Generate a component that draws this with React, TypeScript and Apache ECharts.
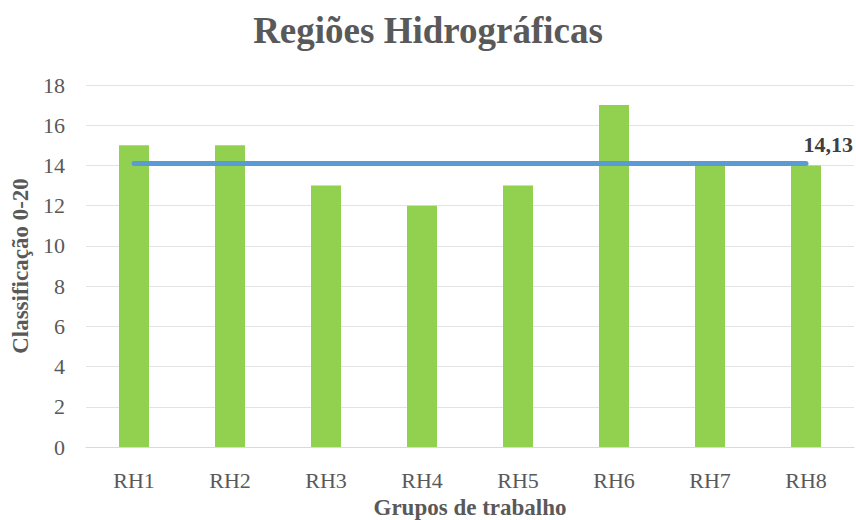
import React, { useEffect, useRef } from "react";
import * as echarts from "echarts";

const categories = ["RH1", "RH2", "RH3", "RH4", "RH5", "RH6", "RH7", "RH8"];
const scores = [15, 15, 13, 12, 13, 17, 14, 14];
const average = 14.13;
const averageLabel = "14,13";
const titleText = "Regiões Hidrográficas";
const yAxisName = "Classificação 0-20";
const xAxisName = "Grupos de trabalho";

const FONT = "'Liberation Serif', 'Times New Roman', serif";

export default function App() {
  const ref = useRef<HTMLDivElement>(null);
  useEffect(() => {
    document.body.style.margin = "0";
    if (!ref.current) return;
    const chart = echarts.init(ref.current, undefined, { renderer: "svg" });
    chart.setOption({
      animation: false,
      backgroundColor: "#ffffff",
      textStyle: { fontFamily: FONT },
      title: {
        text: titleText,
        left: "center",
        top: 7,
        textStyle: { fontFamily: FONT, fontSize: 37, fontWeight: "bold", color: "#595959" },
      },
      grid: { left: 86, right: 2, top: 85, bottom: 73, containLabel: false, outerBoundsMode: "none" },
      xAxis: {
        type: "category",
        data: categories,
        name: xAxisName,
        nameLocation: "middle",
        nameGap: 49,
        nameTextStyle: { fontFamily: FONT, fontSize: 23, fontWeight: "bold", color: "#595959" },
        axisLine: { show: true, lineStyle: { color: "#d9d9d9", width: 1 } },
        axisTick: { show: false },
        axisLabel: { fontFamily: FONT, fontSize: 22, color: "#595959", margin: 22 },
      },
      yAxis: {
        type: "value",
        min: 0,
        max: 18,
        interval: 2,
        name: yAxisName,
        nameLocation: "middle",
        nameGap: 51,
        nameRotate: 90,
        nameTextStyle: { fontFamily: FONT, fontSize: 23, fontWeight: "bold", color: "#595959" },
        axisLine: { show: false },
        axisTick: { show: false },
        axisLabel: { fontFamily: FONT, fontSize: 22, color: "#595959", margin: 21 },
        splitLine: { lineStyle: { color: "#e3e3e3", width: 1 } },
      },
      series: [
        {
          type: "bar",
          data: scores,
          barWidth: 30,
          itemStyle: { color: "#92D050" },
          markLine: {
            symbol: ["none", "none"],
            silent: true,
            lineStyle: { color: "#5B9BD5", width: 5, type: "solid", cap: "round" },
            label: {
              show: true,
              position: "insideEndTop",
              formatter: averageLabel,
              fontFamily: FONT,
              fontSize: 22,
              fontWeight: "bold",
              color: "#404040",
              offset: [52, -2],
            },
            data: [
              [
                { coord: [categories[0], average] },
                { coord: [categories[categories.length - 1], average] },
              ],
            ],
          },
        },
      ],
    });
    return () => chart.dispose();
  }, []);
  return <div ref={ref} style={{ width: 856, height: 520 }} />;
}
